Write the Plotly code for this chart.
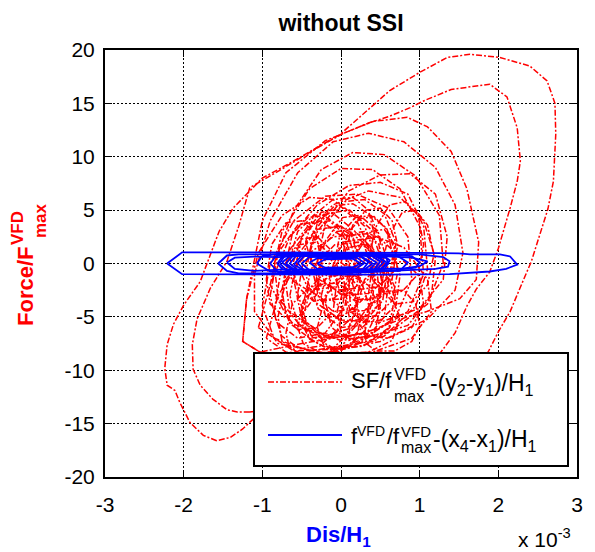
import plotly.graph_objects as go

# ---------------- data (x in units of 1e-3 of H1) ----------------
x_tick_vals = [-3, -2, -1, 0, 1, 2, 3]
x_tick_text = ["-3", "-2", "-1", "0", "1", "2", "3"]
y_tick_vals = [-20, -15, -10, -5, 0, 5, 10, 15, 20]
y_tick_text = ["-20", "-15", "-10", "-5", "0", "5", "10", "15", "20"]

# SF/f^VFD_max - (y2-y1)/H1 : large cycles
sf_large_cycles = [
    [(-1.58, -16.6), (-1.75, -16.1), (-1.92, -14.9), (-2.05, -13.0), (-2.11, -11.9), (-2.21, -11.4),
     (-2.24, -9.8), (-2.21, -7.6), (-2.13, -5.7), (-2.0, -3.9), (-1.79, -1.7), (-1.70, 0.0),
     (-1.55, 3.0), (-1.37, 5.2), (-1.0, 8.0), (-0.65, 9.4), (-0.01, 12.1), (0.62, 16.2),
     (1.0, 17.9), (1.35, 19.3), (1.64, 19.6), (2.02, 19.3), (2.40, 18.5), (2.62, 17.1),
     (2.72, 15.0), (2.73, 12.1), (2.70, 7.7), (2.63, 5.1), (2.53, 2.7), (2.42, 0.2),
     (2.31, -1.7), (2.15, -4.5), (2.0, -6.4), (1.87, -8.3), (1.5, -11.5), (0.8, -13.5),
     (-0.3, -13.0), (-0.8, -12.8), (-1.12, -14.6), (-1.25, -15.5), (-1.41, -16.3), (-1.58, -16.6)],
    [(-1.16, -13.9), (-1.32, -13.9), (-1.45, -13.7), (-1.63, -12.7), (-1.79, -11.4), (-1.88, -9.9),
     (-1.89, -7.6), (-1.83, -5.2), (-1.66, -2.3), (-1.45, 0.2), (-1.3, 3.5), (-1.16, 7.1),
     (-0.74, 8.9), (-0.31, 10.8), (0.03, 12.2), (0.37, 13.2), (0.62, 13.8), (0.88, 14.6),
     (1.04, 15.2), (1.4, 16.3), (1.89, 16.8), (2.11, 15.6), (2.24, 12.7), (2.28, 9.6),
     (2.24, 7.7), (2.15, 5.2), (2.0, 1.4), (1.89, -0.8), (1.72, -2.4), (1.6, -4.0),
     (1.45, -6.5), (1.2, -9.0), (0.7, -11.5), (0.0, -12.8), (-0.6, -13.5), (-1.16, -13.9)],
    [(-1.2, -3.3), (-1.0, 4.0), (-0.7, 8.5), (-0.2, 11.5), (0.4, 13.3), (0.84, 13.7),
     (1.1, 12.8), (1.4, 10.5), (1.6, 7.0), (1.75, 2.0), (1.72, -1.5), (1.51, -3.3),
     (1.30, -3.9), (1.09, -4.5), (0.84, -5.0), (0.3, -6.5), (-0.5, -7.5), (-1.03, -8.3),
     (-1.25, -7.3), (-1.2, -3.3)],
]

# medium cycles
sf_medium_cycles = [
    [(-1.2, -3.3), (-1.05, 1.0), (-0.75, 4.5), (-0.4, 6.2), (-0.1, 6.0), (0.2, 4.0), (0.45, 0.0),
     (0.5, -4.0), (0.3, -7.0), (-0.2, -8.5), (-0.7, -8.6), (-1.03, -8.3), (-1.25, -7.3), (-1.2, -3.3)],
    [(-0.9, -2.0), (-0.75, 3.0), (-0.4, 7.0), (0.0, 8.9), (0.4, 8.8), (0.75, 7.0), (1.0, 3.5),
     (1.05, -1.0), (0.85, -4.5), (0.4, -6.5), (-0.2, -7.0), (-0.65, -5.5), (-0.9, -2.0)],
    [(-0.5, -1.0), (-0.3, 3.0), (0.1, 6.8), (0.5, 8.3), (0.88, 8.4), (1.2, 6.5), (1.35, 2.5),
     (1.3, -1.5), (1.0, -4.2), (0.5, -5.5), (0.0, -5.3), (-0.35, -3.5), (-0.5, -1.0)],
    [(-0.85, 0.0), (-0.6, 5.0), (-0.25, 8.8), (0.15, 10.4), (0.55, 10.2), (0.95, 8.2), (1.25, 4.5),
     (1.3, 0.0), (1.1, -3.8), (0.6, -6.5), (0.0, -7.2), (-0.5, -6.0), (-0.8, -3.2), (-0.85, 0.0)],
    [(-1.0, -4.0), (-0.9, 0.0), (-0.6, 4.0), (-0.2, 6.3), (0.2, 6.5), (0.6, 5.2), (0.85, 2.5),
     (0.9, -1.5), (0.7, -5.0), (0.2, -7.5), (-0.4, -8.2), (-0.85, -7.0), (-1.0, -4.0)],
    [(-1.05, -6.0), (-0.9, -2.0), (-0.65, 2.5), (-0.3, 5.5), (0.1, 7.3), (0.5, 7.6), (0.85, 6.5),
     (1.05, 3.5), (1.1, -0.5), (0.95, -4.0), (0.55, -6.8), (0.0, -8.0), (-0.6, -8.2), (-1.05, -6.0)],
    [(-1.1, -1.0), (-0.9, 4.0), (-0.55, 8.5), (-0.1, 11.4), (0.35, 12.2), (0.8, 11.4), (1.2, 9.0),
     (1.45, 5.5), (1.55, 1.0), (1.45, -2.5), (1.1, -5.2), (0.5, -7.3), (-0.2, -8.4), (-0.8, -7.5),
     (-1.1, -4.5), (-1.1, -1.0)],
    [(-0.95, -7.0), (-0.8, -3.0), (-0.5, 0.5), (-0.1, 2.5), (0.35, 2.8), (0.8, 1.5), (1.1, -1.5),
     (1.15, -4.5), (0.9, -7.0), (0.4, -8.3), (-0.2, -8.6), (-0.7, -8.3), (-0.95, -7.0)],
    [(-0.7, -2.0), (-0.5, 2.5), (-0.1, 5.5), (0.35, 6.8), (0.75, 6.2), (1.05, 4.0), (1.2, 0.5),
     (1.15, -3.0), (0.85, -5.8), (0.3, -7.0), (-0.3, -6.5), (-0.65, -4.5), (-0.7, -2.0)],
]

# small cycles (dense core)
sf_small_cycles = [
    [(-0.55, -2.8), (-0.44, 2.0), (-0.17, 4.7), (0.11, 5.0), (0.38, 3.2), (0.55, -0.4), (0.47, -4.6), (0.17, -6.7), (-0.17, -7.0), (-0.44, -5.5), (-0.55, -2.8)],
    [(-0.3, -2.0), (-0.21, 2.0), (0.02, 4.3), (0.24, 4.5), (0.47, 3.0), (0.6, 0.0), (0.53, -3.5), (0.29, -5.2), (0.02, -5.5), (-0.21, -4.2), (-0.3, -2.0)],
    [(-0.75, -3.2), (-0.65, 1.3), (-0.4, 3.7), (-0.15, 4.0), (0.1, 2.4), (0.25, -1.0), (0.18, -4.8), (-0.1, -6.7), (-0.4, -7.0), (-0.65, -5.6), (-0.75, -3.2)],
    [(-0.1, -0.7), (-0.02, 2.5), (0.18, 4.3), (0.38, 4.5), (0.58, 3.3), (0.7, 0.9), (0.64, -1.9), (0.42, -3.3), (0.18, -3.5), (-0.02, -2.5), (-0.1, -0.7)],
    [(-0.45, -1.0), (-0.38, 1.75), (-0.2, 3.3), (-0.03, 3.5), (0.15, 2.5), (0.25, 0.35), (0.2, -2.1), (0.0, -3.3), (-0.2, -3.5), (-0.38, -2.6), (-0.45, -1.0)],
    [(-0.5, -4.5), (-0.38, -0.5), (-0.08, 1.75), (0.22, 2.0), (0.52, 0.5), (0.7, -2.5), (0.61, -6.0), (0.28, -7.75), (-0.08, -8.0), (-0.38, -6.75), (-0.5, -4.5)],
    [(-0.85, -4.5), (-0.76, -0.5), (-0.53, 1.75), (-0.31, 2.0), (-0.08, 0.5), (0.05, -2.5), (-0.02, -6.0), (-0.27, -7.75), (-0.53, -8.0), (-0.76, -6.75), (-0.85, -4.5)],
    [(-0.3, 0.15), (-0.2, 3.75), (0.05, 5.8), (0.3, 6.0), (0.55, 4.65), (0.7, 1.95), (0.63, -1.2), (0.35, -2.8), (0.05, -3.0), (-0.2, -1.9), (-0.3, 0.15)],
    [(-0.35, -2.9), (-0.29, -0.5), (-0.14, 0.85), (0.01, 1.0), (0.16, 0.1), (0.25, -1.7), (0.2, -3.8), (0.04, -4.85), (-0.14, -5.0), (-0.29, -4.25), (-0.35, -2.9)],
    [(0.05, -2.7), (0.12, 0.5), (0.3, 2.3), (0.47, 2.5), (0.65, 1.3), (0.75, -1.1), (0.7, -3.9), (0.5, -5.3), (0.3, -5.5), (0.12, -4.5), (0.05, -2.7)],
    [(-0.7, -0.05), (-0.62, 2.75), (-0.42, 4.3), (-0.22, 4.5), (-0.02, 3.45), (0.1, 1.35), (0.04, -1.1), (-0.18, -2.3), (-0.42, -2.5), (-0.62, -1.6), (-0.7, -0.05)],
    [(-0.5, -5.55), (-0.4, -2.75), (-0.15, -1.2), (0.1, -1.0), (0.35, -2.05), (0.5, -4.15), (0.42, -6.6), (0.15, -7.8), (-0.15, -8.0), (-0.4, -7.1), (-0.5, -5.55)],
    [(-0.6, -1.5), (-0.5, 2.5), (-0.25, 4.8), (0.05, 5.2), (0.3, 3.5), (0.45, 0.5), (0.4, -3.5), (0.15, -6.0), (-0.2, -6.8), (-0.5, -5.2), (-0.6, -1.5)],
    [(-0.2, -3.5), (-0.1, -0.5), (0.1, 1.5), (0.3, 1.8), (0.5, 0.5), (0.6, -2.0), (0.55, -5.0), (0.35, -6.8), (0.1, -7.2), (-0.12, -6.0), (-0.2, -3.5)],
    [(-0.65, 0.5), (-0.55, 3.0), (-0.35, 4.5), (-0.1, 4.7), (0.1, 3.5), (0.2, 1.0), (0.15, -1.8), (-0.1, -3.3), (-0.35, -3.5), (-0.55, -2.2), (-0.65, 0.5)],
    [(-0.5, -5.0), (-0.42, -2.5), (-0.2, -0.8), (0.05, -0.5), (0.25, -1.5), (0.35, -3.8), (0.3, -6.3), (0.1, -7.8), (-0.15, -8.1), (-0.4, -7.0), (-0.5, -5.0)],
    [(0.0, 0.0), (0.08, 2.8), (0.25, 4.2), (0.42, 4.4), (0.58, 3.2), (0.66, 0.8), (0.6, -1.8), (0.42, -3.2), (0.2, -3.4), (0.05, -2.2), (0.0, 0.0)],
    [(-0.75, -2.5), (-0.68, 0.5), (-0.5, 2.3), (-0.3, 2.5), (-0.12, 1.2), (-0.05, -1.5), (-0.1, -4.5), (-0.3, -6.0), (-0.55, -6.2), (-0.7, -4.8), (-0.75, -2.5)],
    [(-0.35, -1.0), (-0.25, 1.5), (-0.05, 3.0), (0.15, 3.2), (0.32, 2.0), (0.4, -0.2), (0.35, -2.8), (0.15, -4.3), (-0.1, -4.5), (-0.28, -3.3), (-0.35, -1.0)],
    [(0.1, -2.0), (0.2, 1.0), (0.38, 3.0), (0.55, 3.2), (0.68, 1.8), (0.72, -0.8), (0.65, -3.5), (0.45, -4.9), (0.25, -5.0), (0.12, -4.0), (0.1, -2.0)],
    [(-0.8, -5.0), (-0.7, -1.5), (-0.45, 0.8), (-0.15, 1.0), (0.1, -0.5), (0.2, -3.5), (0.1, -6.5), (-0.15, -8.3), (-0.5, -8.5), (-0.75, -7.3), (-0.8, -5.0)],
    [(-0.3, -6.0), (-0.2, -3.0), (0.05, -1.2), (0.35, -1.0), (0.6, -2.5), (0.75, -5.0), (0.65, -7.2), (0.35, -8.3), (0.0, -8.4), (-0.22, -7.6), (-0.3, -6.0)],
    [(0.2, -4.0), (0.3, -1.5), (0.55, 0.0), (0.8, 0.2), (1.0, -1.2), (1.05, -3.8), (0.9, -6.0), (0.6, -7.0), (0.35, -6.8), (0.22, -5.6), (0.2, -4.0)],
    [(-0.4, 1.0), (-0.3, 3.8), (-0.08, 5.4), (0.15, 5.6), (0.38, 4.5), (0.5, 2.0), (0.45, -0.8), (0.22, -2.3), (-0.05, -2.5), (-0.3, -1.4), (-0.4, 1.0)],
    [(-0.65, -3.0), (-0.55, 0.8), (-0.3, 3.2), (0.0, 3.5), (0.28, 2.0), (0.42, -1.0), (0.35, -4.5), (0.1, -6.6), (-0.25, -7.0), (-0.55, -5.6), (-0.65, -3.0)],
    [(-0.15, -1.5), (-0.05, 1.2), (0.12, 2.8), (0.3, 3.0), (0.48, 1.8), (0.55, -0.5), (0.5, -3.0), (0.3, -4.4), (0.08, -4.6), (-0.1, -3.5), (-0.15, -1.5)],
    [(-0.55, -6.0), (-0.48, -3.5), (-0.28, -2.0), (-0.05, -1.8), (0.15, -2.8), (0.25, -5.0), (0.2, -7.0), (0.0, -8.2), (-0.25, -8.4), (-0.48, -7.5), (-0.55, -6.0)],
    [(-0.05, -4.5), (0.05, -2.0), (0.25, -0.5), (0.45, -0.3), (0.62, -1.5), (0.7, -3.8), (0.62, -6.0), (0.42, -7.3), (0.18, -7.5), (0.0, -6.4), (-0.05, -4.5)],
    [(-0.9, -3.0), (-0.8, 1.0), (-0.55, 3.6), (-0.25, 4.0), (0.0, 2.6), (0.12, -0.5), (0.05, -4.0), (-0.2, -6.5), (-0.55, -7.0), (-0.82, -5.5), (-0.9, -3.0)],
    [(0.05, 1.0), (0.15, 3.6), (0.32, 5.0), (0.5, 5.2), (0.65, 4.0), (0.72, 1.7), (0.66, -0.8), (0.48, -2.2), (0.25, -2.4), (0.1, -1.2), (0.05, 1.0)],
    [(-0.7, -6.5), (-0.62, -3.8), (-0.4, -2.2), (-0.15, -2.0), (0.05, -3.2), (0.12, -5.5), (0.05, -7.4), (-0.2, -8.6), (-0.48, -8.7), (-0.66, -7.8), (-0.7, -6.5)],
    [(0.3, -6.5), (0.38, -4.0), (0.58, -2.6), (0.8, -2.5), (0.95, -3.8), (1.0, -5.8), (0.9, -7.3), (0.68, -8.2), (0.45, -8.2), (0.32, -7.5), (0.3, -6.5)],
    [(-0.45, 2.0), (-0.35, 4.5), (-0.1, 6.0), (0.15, 6.2), (0.35, 5.0), (0.42, 2.8), (0.35, 0.5), (0.12, -0.6), (-0.15, -0.7), (-0.38, 0.2), (-0.45, 2.0)],
    [(0.35, 0.5), (0.45, 3.5), (0.62, 5.5), (0.82, 5.8), (0.98, 4.5), (1.05, 1.8), (0.98, -1.0), (0.78, -2.6), (0.55, -2.8), (0.4, -1.5), (0.35, 0.5)],
    [(-0.95, -1.5), (-0.88, 1.8), (-0.7, 3.8), (-0.5, 4.0), (-0.32, 2.8), (-0.25, 0.2), (-0.3, -2.8), (-0.5, -4.8), (-0.72, -5.0), (-0.9, -3.8), (-0.95, -1.5)],
    [(-0.25, -3.0), (-0.15, 0.0), (0.05, 2.0), (0.28, 2.3), (0.45, 1.0), (0.52, -1.5), (0.45, -4.2), (0.25, -5.8), (0.0, -6.0), (-0.2, -4.9), (-0.25, -3.0)],
    [(0.5, -1.0), (0.6, 2.5), (0.78, 4.8), (0.95, 5.0), (1.1, 3.6), (1.18, 0.8), (1.1, -2.0), (0.9, -3.6), (0.68, -3.8), (0.54, -2.6), (0.5, -1.0)],
]

# f^VFD/f^VFD_max - (x4-x1)/H1 cycles
vfd_cycles = [
    [(-2.21, 0.0), (-2.02, 1.04), (-1.0, 1.05), (0.0, 1.05), (1.0, 1.0), (1.5, 0.95), (1.64, 0.85),
     (2.02, 0.85), (2.15, 0.66), (2.24, -0.1), (2.1, -0.5), (1.89, -0.75), (1.38, -1.0),
     (0.5, -1.05), (-1.0, -1.05), (-2.02, -1.0), (-2.21, 0.0)],
    [(-1.56, 0.0), (-1.45, 0.75), (-1.3, 0.85), (0.0, 0.9), (1.0, 0.85), (1.3, 0.6), (1.38, 0.2),
     (1.36, -0.3), (1.2, -0.5), (0.5, -0.7), (0.0, -0.9), (-1.3, -0.92), (-1.45, -0.7), (-1.56, 0.0)],
    [(-1.45, 0.1), (-1.35, 0.55), (-1.1, 0.65), (-0.8, 0.6), (-0.5, 0.75), (0.2, 0.8), (0.9, 0.55),
     (1.1, 0.2), (1.0, -0.25), (0.8, -0.45), (0.0, -0.6), (-0.7, -0.55), (-1.1, -0.7), (-1.35, -0.5),
     (-1.45, 0.1)],
    [(-1.07, 0.0), (-1.0, 0.7), (-0.8, 0.9), (0.3, 0.95), (0.9, 0.7), (1.0, 0.1), (0.95, -0.4),
     (0.7, -0.6), (-0.2, -0.85), (-0.9, -0.75), (-1.07, 0.0)],
    [(-0.81, 0.0), (-0.75, 0.6), (-0.6, 0.85), (0.3, 0.9), (0.58, 0.5), (0.6, 0.0), (0.5, -0.5),
     (0.0, -0.85), (-0.6, -0.8), (-0.75, -0.5), (-0.81, 0.0)],
    [(-0.9, 0.0), (-0.82, 0.75), (0.7, 0.8), (0.85, 0.1), (0.75, -0.7), (-0.8, -0.8), (-0.9, 0.0)],
    [(-0.78, 0.0), (-0.7, 0.9), (0.5, 0.95), (0.62, 0.3), (0.55, -0.6), (-0.65, -0.9), (-0.78, 0.0)],
    [(-0.75, 0.1), (-0.65, 0.7), (0.45, 0.75), (0.58, 0.1), (0.5, -0.75), (-0.6, -0.7), (-0.75, 0.1)],
    [(-0.7, 0.0), (-0.6, 0.8), (0.4, 0.85), (0.55, 0.2), (0.45, -0.6), (-0.55, -0.8), (-0.7, 0.0)],
    [(-0.65, 0.0), (-0.55, 0.95), (0.35, 0.9), (0.5, 0.2), (0.4, -0.8), (-0.5, -0.9), (-0.65, 0.0)],
    [(-0.6, -0.1), (-0.5, 0.75), (0.3, 0.8), (0.45, 0.1), (0.35, -0.7), (-0.45, -0.75), (-0.6, -0.1)],
    [(-0.55, 0.05), (-0.45, 0.85), (0.2, 0.9), (0.35, 0.15), (0.25, -0.85), (-0.45, -0.8), (-0.55, 0.05)],
    [(-0.5, 0.0), (-0.4, 0.6), (0.25, 0.7), (0.4, 0.0), (0.3, -0.55), (-0.4, -0.65), (-0.5, 0.0)],
    [(-0.4, 0.1), (-0.3, 0.5), (0.2, 0.55), (0.3, 0.05), (0.2, -0.45), (-0.3, -0.5), (-0.4, 0.1)],
    [(-0.3, 0.0), (-0.2, 0.4), (0.15, 0.45), (0.25, 0.0), (0.15, -0.35), (-0.2, -0.4), (-0.3, 0.0)],
]


def unzip(cycles):
    xs, ys = [], []
    for c in cycles:
        for px_, py_ in c:
            xs.append(px_)
            ys.append(py_)
        xs.append(None)
        ys.append(None)
    return xs, ys


sf_x, sf_y = unzip(sf_large_cycles + sf_medium_cycles + sf_small_cycles)
vfd_x, vfd_y = unzip(vfd_cycles)

RED = "#ff0000"
BLUE = "#0000ff"
FONT = "Arial, Liberation Sans, Helvetica, sans-serif"
DASHDOT = "6px,2px,2px,2px"

fig = go.Figure()
fig.add_trace(go.Scatter(x=sf_x, y=sf_y, mode="lines",
                         line=dict(color=RED, width=1.5, dash=DASHDOT),
                         showlegend=False, hoverinfo="skip"))
fig.add_trace(go.Scatter(x=vfd_x, y=vfd_y, mode="lines",
                         line=dict(color=BLUE, width=1.8),
                         showlegend=False, hoverinfo="skip"))

L, R, T, B = 105, 18, 50, 75
W, H = 595, 552
PW, PH = W - L - R, H - T - B


def px(xp):
    return (xp - L) / PW


def py(yp):
    return (H - B - yp) / PH


axis_common = dict(showline=True, linecolor="black", linewidth=2, mirror="ticks",
                   ticks="inside", ticklen=7, tickwidth=1, tickcolor="black",
                   showgrid=True, gridcolor="black", gridwidth=1, griddash="2px,2px",
                   zeroline=False, tickfont=dict(family=FONT, size=21, color="black"))

fig.update_xaxes(range=[-3, 3], tickvals=x_tick_vals, ticktext=x_tick_text,
                 ticklabelstandoff=8, **axis_common)
fig.update_yaxes(range=[-20, 20], tickvals=y_tick_vals, ticktext=y_tick_text,
                 ticklabelstandoff=4, **axis_common)

shapes = [
    dict(type="rect", xref="paper", yref="paper", x0=px(254), x1=px(568), y0=py(466), y1=py(353),
         line=dict(color="black", width=2), fillcolor="white", layer="above"),
    dict(type="line", xref="paper", yref="paper", x0=px(268), x1=px(342), y0=py(382), y1=py(382),
         line=dict(color=RED, width=1.5, dash=DASHDOT), layer="above"),
    dict(type="line", xref="paper", yref="paper", x0=px(268), x1=px(342), y0=py(435), y1=py(435),
         line=dict(color=BLUE, width=1.8), layer="above"),
]


def ann(text, xp, yp, size, color="black", bold=False, xanchor="left", angle=0):
    t = "<b>" + text + "</b>" if bold else text
    return dict(text=t, x=px(xp), y=py(yp), xref="paper", yref="paper", showarrow=False,
                xanchor=xanchor, yanchor="middle", textangle=angle,
                font=dict(family=FONT, size=size, color=color), borderpad=0)


annotations = [
    # y axis label
    ann("Force/F", 25, 287, 22, RED, True, "center", -90),
    ann("VFD", 17, 228, 17, RED, True, "center", -90),
    ann("max", 40, 221, 17, RED, True, "center", -90),
    # x axis label
    ann("Dis/H<sub>1</sub>", 305, 536, 22, BLUE, True),
    ann("x 10<sup>-3</sup>", 517, 538, 21),
    # legend row 1
    ann("SF/f", 350, 380, 22),
    ann("VFD", 393, 374, 16),
    ann("max", 393, 396, 16),
    ann("-(y<sub>2</sub>-y<sub>1</sub>)/H<sub>1</sub>", 429, 384, 23),
    # legend row 2
    ann("f", 350, 436, 22),
    ann("VFD", 356, 431, 14),
    ann("/f", 386, 436, 22),
    ann("VFD", 400, 431, 15),
    ann("max", 400, 447, 16),
    ann("-(x<sub>4</sub>-x<sub>1</sub>)/H<sub>1</sub>", 432, 440, 23),
]

fig.update_layout(
    width=W, height=H,
    margin=dict(l=L, r=R, t=T, b=B),
    paper_bgcolor="white", plot_bgcolor="white",
    title=dict(text="<b>without SSI</b>", x=341 / W, xanchor="center", y=1 - 23 / H,
               yanchor="middle", font=dict(family=FONT, size=23, color="black")),
    shapes=shapes,
    annotations=annotations,
    showlegend=False,
)

fig.write_html("out.html")
